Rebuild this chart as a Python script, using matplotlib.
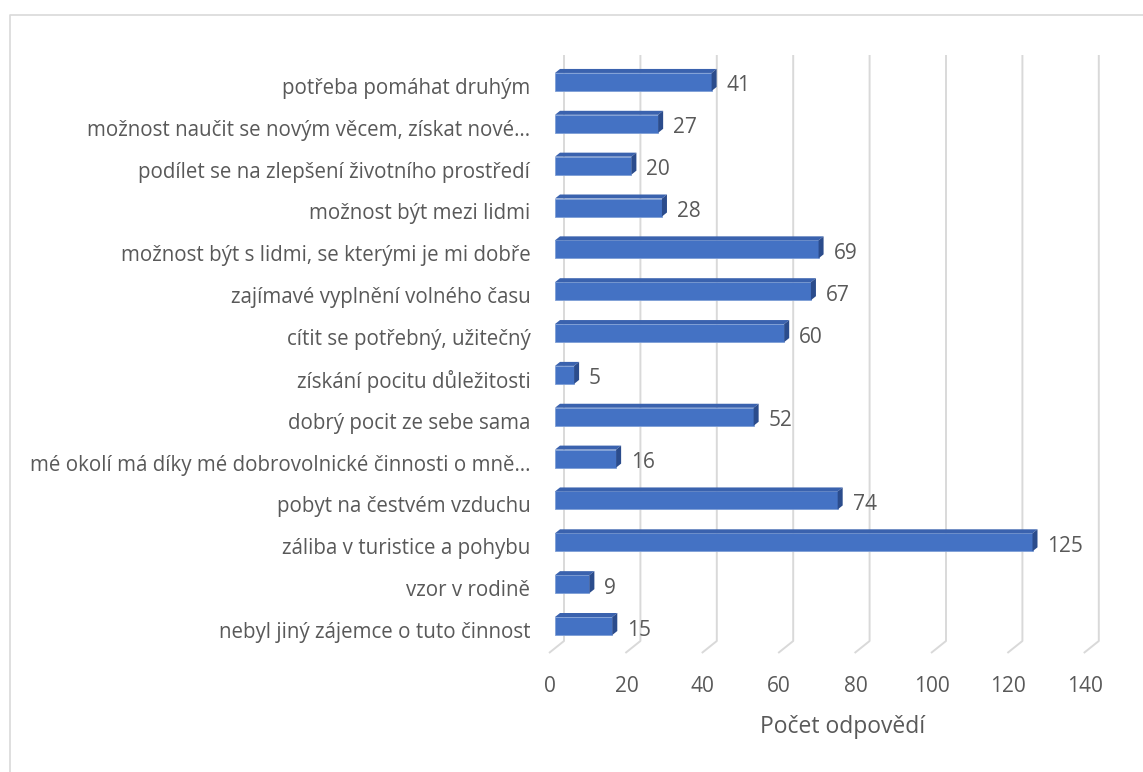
import matplotlib
matplotlib.use("agg")
import matplotlib.pyplot as plt
from matplotlib.patches import Polygon
from matplotlib.lines import Line2D

# survey answers, listed bottom to top as they appear on the chart
categories = [
    "nebyl jiný zájemce o tuto činnost",
    "vzor v rodině",
    "záliba v turistice a pohybu",
    "pobyt na čestvém vzduchu",
    "mé okolí má díky mé dobrovolnické činnosti o mně…",
    "dobrý pocit ze sebe sama",
    "získání pocitu důležitosti",
    "cítit se potřebný, užitečný",
    "zajímavé vyplnění volného času",
    "možnost být s lidmi, se kterými je mi dobře",
    "možnost být mezi lidmi",
    "podílet se na zlepšení životního prostředí",
    "možnost naučit se novým věcem, získat nové…",
    "potřeba pomáhat druhým",
]
counts = [15, 9, 125, 74, 16, 52, 5, 60, 67, 69, 28, 20, 27, 41]
x_ticks = list(range(0, 141, 20))
x_title = "Počet odpovědí"

W, H, DPI = 1143, 772, 100
PX = 3.82      # pixels per answer
ROW = 41.85    # pixels per category row
TEXT = "#595959"
GRID = "#D9D9D9"
FRONT, TOP, SIDE = "#4472C4", "#3A62AE", "#2B4C8C"

plt.rcParams["font.family"] = ["Open Sans", "DejaVu Sans"]

fig = plt.figure(figsize=(W / DPI, H / DPI), dpi=DPI)
left, right, top, bottom = 540, 1110, 40, 700
ax = fig.add_axes([left / W, 1 - bottom / H, (right - left) / W, (bottom - top) / H])
ax.set_xlim((left - 555) / PX, (right - 555) / PX)
ax.set_ylim((630 - bottom) / ROW, (630 - top) / ROW)
for s in ax.spines.values():
    s.set_visible(False)
ax.set_xticks([])

# back-wall gridlines with the short floor segment
for v in x_ticks:
    ax.plot([v + 9 / PX, v + 9 / PX, v - 6 / PX],
            [(630 - 55) / ROW, (630 - 641) / ROW, (630 - 653) / ROW],
            color=GRID, lw=1.4, zorder=1, solid_capstyle="butt")
    ax.text(v - 5 / PX, (630 - 686) / ROW, str(v), ha="center", va="center",
            fontsize=15, color=TEXT)

# pseudo-3D bars: front face, top face and end face
ypos = list(range(len(categories)))
dx, dy = 5 / PX, 4 / ROW
half = 9 / ROW
yc = [y + 4 / ROW for y in ypos]
ax.barh(yc, counts, height=2 * half, color=FRONT, edgecolor="#7E9ED6",
        linewidth=0.6, zorder=3)
for y, v in zip(yc, counts):
    t, b = y + half, y - half
    ax.add_patch(Polygon([(0, t), (v, t), (v + dx, t + dy), (dx, t + dy)],
                         closed=True, facecolor=TOP, edgecolor="none", zorder=3))
    ax.add_patch(Polygon([(v, t), (v + dx, t + dy), (v + dx, b + dy), (v, b)],
                         closed=True, facecolor=SIDE, edgecolor="none", zorder=3))

for y, v in zip(ypos, counts):
    ax.annotate(str(v), (v, y), xytext=(10.8, 0), textcoords="offset points",
                ha="left", va="center", fontsize=15, color=TEXT)

ax.set_yticks(ypos)
ax.set_yticklabels(categories, fontsize=14.8, color=TEXT)
ax.tick_params(axis="y", length=0, pad=7)

fig.text(843 / W, 1 - 727 / H, x_title, ha="center", va="center",
         fontsize=16.5, color=TEXT)

# chart area outline (top and left edges)
fig.add_artist(Line2D([10 / W, 10 / W, 1], [0, 1 - 15 / H, 1 - 15 / H],
                      transform=fig.transFigure, color=GRID, lw=1.2))

fig.savefig("out.png", dpi=DPI)
